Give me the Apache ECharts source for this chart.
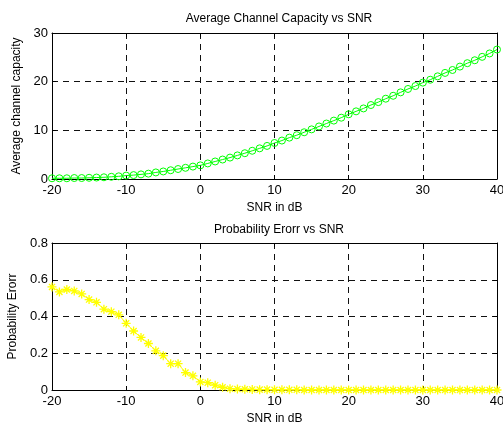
<!DOCTYPE html>
<html>
<head>
<meta charset="utf-8">
<script src="https://cdn.jsdelivr.net/npm/echarts@6/dist/echarts.min.js"></script>
<style>
html,body{margin:0;padding:0;background:#fff;}
#chart{width:503px;height:424px;}
</style>
</head>
<body>
<div id="chart"></div>
<script>
var snr = [-20,-19,-18,-17,-16,-15,-14,-13,-12,-11,-10,-9,-8,-7,-6,-5,-4,-3,-2,-1,0,1,2,3,4,5,6,7,8,9,10,11,12,13,14,15,16,17,18,19,20,21,22,23,24,25,26,27,28,29,30,31,32,33,34,35,36,37,38,39,40];
var capacity = [0.15,0.15,0.15,0.2,0.2,0.25,0.3,0.35,0.45,0.55,0.7,0.8,0.95,1.1,1.35,1.55,1.8,2.05,2.3,2.55,2.8,3.2,3.6,4.0,4.4,4.85,5.3,5.8,6.3,6.8,7.4,7.9,8.5,9.0,9.6,10.2,10.8,11.4,12.0,12.6,13.3,13.9,14.5,15.2,15.8,16.5,17.1,17.8,18.5,19.1,19.8,20.4,21.1,21.8,22.4,23.1,23.8,24.4,25.1,25.8,26.6];
var probError = [0.561,0.534,0.547,0.539,0.523,0.492,0.477,0.440,0.426,0.409,0.363,0.321,0.286,0.253,0.213,0.187,0.143,0.143,0.095,0.077,0.044,0.040,0.026,0.015,0.007,0.005,0.004,0.003,0.002,0.002,0.001,0.001,0.001,0.001,0,0,0,0,0,0,0,0,0,0,0,0,0,0,0,0,0,0,0,0,0,0,0,0,0,0,0];
var xTicks = [-20,-10,0,10,20,30,40];
var capTicks = [0,10,20,30];
var peTicks = [0,0.2,0.4,0.6,0.8];
var titles = ['Average Channel Capacity vs SNR','Probability Erorr vs SNR'];
var xName = 'SNR in dB';
var yNames = ['Average channel capacity','Probability Erorr'];

var FONT = 'Liberation Sans, Arial, Helvetica, sans-serif';
var chart = echarts.init(document.getElementById('chart'), null, {renderer:'canvas'});

function pairs(xs, ys){ return xs.map(function(x,i){return [x, ys[i]];}); }

var dash = {color:'#111', width:1, type:[6,5]};
function xAx(grid, pos, showLabel, name, gap){
  return {
    type:'value', gridIndex:grid, position:pos, min:xTicks[0], max:xTicks[xTicks.length-1], interval:10,
    axisLine:{show:true, onZero:false, lineStyle:{color:'#000', width:1}},
    axisTick:{show:true, inside:true, length:4, lineStyle:{color:'#000'}},
    axisLabel:{show:showLabel, color:'#000', fontSize:13, fontFamily:FONT, margin:5},
    splitLine:{show:showLabel, lineStyle:dash},
    name: name || '', nameLocation:'middle', nameGap:gap || 22,
    nameTextStyle:{color:'#000', fontSize:12, fontFamily:FONT}
  };
}
function yAx(grid, pos, showLabel, ticks, step, name, gap){
  return {
    type:'value', gridIndex:grid, position:pos, min:ticks[0], max:ticks[ticks.length-1], interval:step,
    axisLine:{show:true, onZero:false, lineStyle:{color:'#000', width:1}},
    axisTick:{show:true, inside:true, length:4, lineStyle:{color:'#000'}},
    axisLabel:{show:showLabel, color:'#000', fontSize:13, fontFamily:FONT, margin:4},
    splitLine:{show:showLabel, lineStyle:dash},
    name: name || '', nameLocation:'middle', nameGap:gap || 0, nameRotate:90,
    nameTextStyle:{color:'#000', fontSize:12, fontFamily:FONT}
  };
}

var option = {
  backgroundColor:'#fff',
  animation:false,
  title:[
    {text:titles[0], left:274, top:8, textAlign:'center', textStyle:{color:'#000', fontSize:12, fontWeight:'normal', fontFamily:FONT}},
    {text:titles[1], left:274, top:219, textAlign:'center', textStyle:{color:'#000', fontSize:12, fontWeight:'normal', fontFamily:FONT}}
  ],
  grid:[
    {left:52, right:6, top:33, height:146, show:false, outerBoundsMode:'none', containLabel:false},
    {left:52, right:6, top:243, height:147, show:false, outerBoundsMode:'none', containLabel:false}
  ],
  xAxis:[
    xAx(0,'bottom',true,xName,23),
    xAx(0,'top',false),
    xAx(1,'bottom',true,xName,23),
    xAx(1,'top',false)
  ],
  yAxis:[
    yAx(0,'left',true,capTicks,10,yNames[0],24),
    yAx(0,'right',false,capTicks,10),
    yAx(1,'left',true,peTicks,0.2,yNames[1],29),
    yAx(1,'right',false,peTicks,0.2)
  ],
  series:[
    {type:'line', xAxisIndex:0, yAxisIndex:0, data:pairs(snr,capacity), clip:false,
     symbol:'circle', symbolSize:7, showAllSymbol:true,
     lineStyle:{color:'#00ff00', width:1},
     itemStyle:{color:'rgba(0,0,0,0)', borderColor:'#00ff00', borderWidth:1}},
    {type:'line', xAxisIndex:2, yAxisIndex:2, data:pairs(snr,probError), clip:false,
     symbol:'path://M5,0L5,10M0,5L10,5M1.6,1.6L8.4,8.4M1.6,8.4L8.4,1.6', symbolSize:9, showAllSymbol:true,
     lineStyle:{color:'#ffff00', width:1},
     itemStyle:{color:'rgba(0,0,0,0)', borderColor:'#ffff00', borderWidth:1.3}}
  ]
};
chart.setOption(option);
</script>
</body>
</html>
